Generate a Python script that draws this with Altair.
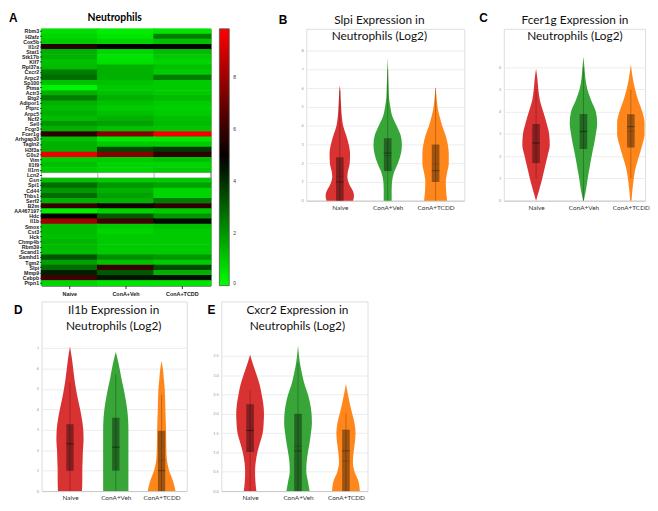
import altair as alt
import pandas as pd

conditions = ["Naive", "ConA+Veh", "ConA+TCDD"]
group_colors = ["#d62728", "#2ca02c", "#ff7f0e"]

# ---------------- Heatmap (panel A) ----------------
genes = ["Rbm3", "H2afz", "Cox5b", "Il1r2", "Stat1", "Stk17b", "Klf7", "Rpl37a", "Cxcr2", "Arpc2",
         "Sp100", "Ptma", "Actr3", "Btg2", "Adipor1", "Ptprc", "Arpc5", "Ncf2", "Sell", "Fcgr3",
         "Fcer1g", "Arhgap30", "Tagln2", "H3f3a", "G0s2", "Vim", "Il1f9", "Il1rn", "Lcn2", "Gsn",
         "Spi1", "Cd44", "Thbs1", "Serf2", "B2m", "AA467197", "Hdc", "Il1b", "Smox", "Cst3",
         "Hck", "Chmp4b", "Rbm39", "Scand1", "Samhd1", "Tgm2", "Slpi", "Mmp9", "Cebpb", "Ptpn1"]
heat_naive = [0.6, 0.8, 1.0, 5.6, 1.5, 1.5, 1.2, 1.3, 2.5, 2.8,
              1.2, 0.2, 1.5, 2.5, 1.5, 1.3, 1.5, 1.3, 2.0, 1.5,
              5.8, 1.2, 1.5, 1.5, 9.5, 1.0, 1.2, 1.0, None, 1.2,
              2.8, 2.0, 2.8, 1.5, 6.0, 0.3, 4.9, 8.0, 1.3, 1.3,
              1.2, 1.4, 1.3, 1.3, 3.3, 1.8, 2.8, 4.3, 6.2, 0.8]
heat_veh = [0.3, 0.5, 0.8, 4.9, 0.8, 0.5, 0.6, 1.5, 1.5, 1.5,
            1.2, 1.0, 1.2, 1.5, 1.2, 1.0, 1.2, 1.5, 1.8, 1.2,
            7.5, 0.4, 1.0, 3.5, 7.5, 1.0, 0.8, 0.8, None, 1.0,
            2.0, 1.5, 1.8, 1.5, 5.3, 0.8, 3.2, 6.2, 1.0, 0.8,
            1.0, 1.0, 1.0, 1.0, 2.2, 1.2, 6.0, 3.2, 4.5, 0.5]
heat_tcdd = [0.5, 2.5, 1.2, 4.8, 1.3, 1.0, 0.8, 1.2, 1.0, 2.5,
             1.0, 1.0, 1.0, 1.3, 1.0, 0.9, 1.0, 1.2, 1.3, 1.1,
             9.6, 0.4, 1.0, 3.8, 5.8, 1.2, 0.8, 1.0, None, 1.0,
             1.8, 0.8, 0.8, 2.5, 5.8, 1.0, 2.0, 4.7, 1.2, 1.0,
             1.0, 1.0, 1.0, 1.0, 2.0, 1.0, 3.5, 1.5, 4.6, 0.5]
colorbar_ticks = [0, 2, 4, 6, 8]

heat_rows = []
for i, g in enumerate(genes):
    for c, arr in zip(conditions, [heat_naive, heat_veh, heat_tcdd]):
        heat_rows.append({"gene": g, "cond": c, "val": arr[i]})
heat_df = pd.DataFrame(heat_rows)

HEAT_W, HEAT_H = 171, 260

hx = alt.X("cond:N", sort=conditions, title=None,
           axis=alt.Axis(labelAngle=0, labelFont="Liberation Sans", labelFontWeight="bold",
                         labelFontSize=5.5, labelColor="#222", tickSize=3, tickColor="#333",
                         domain=False, labelPadding=3))
hy = alt.Y("gene:N", sort=genes, title=None,
           axis=alt.Axis(labelFont="Liberation Sans", labelFontWeight="bold", labelFontSize=5.3,
                         labelColor="#222", tickSize=2, tickColor="#333", domain=False,
                         labelPadding=1))
heat_scale = alt.Scale(domain=[0, 4.9, 9.85], range=["#00ff00", "#000000", "#ff0000"],
                       interpolate="rgb")
hcolor = alt.Color("val:Q", scale=heat_scale,
                   legend=alt.Legend(title=None, type="gradient", orient="right",
                                     direction="vertical",
                                     gradientLength=HEAT_H, gradientThickness=10, offset=9,
                                     values=colorbar_ticks, labelFontSize=5,
                                     labelFont="Liberation Sans", labelColor="#333",
                                     gradientStrokeColor="#555", gradientStrokeWidth=0.8,
                                     labelOverlap=False, labelOffset=4))
heat_base = alt.Chart(heat_df)
heat_cells = heat_base.transform_filter("isValid(datum.val)").mark_rect(
    height={"band": 1.12}, width={"band": 1.03}).encode(x=hx, y=hy, color=hcolor)
heat_missing = heat_base.transform_filter("!isValid(datum.val)").mark_rect(
    color="white", stroke="#777", strokeWidth=0.4).encode(x=hx, y=hy)
heat_text = alt.Chart(pd.DataFrame({"t": ["A", "Neutrophils"],
                                    "kind": ["letter", "title"]}))
letter_a = heat_text.transform_filter("datum.kind == 'letter'").mark_text(
    font="Liberation Sans", fontWeight="bold", fontSize=12, align="left", baseline="middle",
    color="black").encode(text="t:N", x=alt.value(-33), y=alt.value(-11))
title_a = heat_text.transform_filter("datum.kind == 'title'").mark_text(
    font="Lato", fontWeight="bold", fontSize=10.5, align="center", baseline="middle",
    color="black").encode(text="t:N", x=alt.value(74), y=alt.value(-11))
panel_a = alt.layer(heat_cells, heat_missing, letter_a, title_a).properties(
    width=HEAT_W, height=HEAT_H,
    view=alt.ViewBackground(stroke="#444", strokeWidth=1))

# ---------------- Violin panels ----------------
# Slpi (B)
slpi_naive_y = [0, 0.25, 0.5, 0.75, 1.0, 1.25, 1.5, 2.0, 2.5, 3.0, 3.5, 4.0, 4.5, 5.0, 5.5, 6.0, 6.13]
slpi_naive_w = [40, 43, 40, 32, 26, 23, 24, 30, 31, 27, 19, 10, 6, 4, 2.5, 1, 0]
slpi_veh_y = [0, 0.5, 1.0, 1.5, 2.0, 2.5, 3.0, 3.5, 4.0, 4.5, 5.0, 5.5, 6.0, 6.5, 7.0, 7.6]
slpi_veh_w = [12, 12, 13, 19, 31, 40, 43, 39, 27, 14, 8, 4, 3, 2, 1.2, 0]
slpi_tcdd_y = [0, 0.5, 1.0, 1.5, 2.0, 2.5, 3.0, 3.5, 4.0, 4.5, 5.0, 5.5, 6.08]
slpi_tcdd_w = [35, 32, 31, 35, 40, 40, 37, 30, 20, 12, 6, 3, 0]
slpi_q1 = [0, 1.58, 1.0]
slpi_med = [1.0, 2.54, 1.6]
slpi_q3 = [2.31, 3.33, 3.0]
slpi_mean = [1.3, 2.4, 1.96]
slpi_lo = [0, 0, 0]
slpi_hi = [5.9, 7.0, 6.0]

# Fcer1g (C)
fcer_naive_y = [0, 0.5, 1.0, 1.5, 2.0, 2.5, 3.0, 3.5, 4.0, 4.5, 5.0, 5.5, 5.94]
fcer_naive_w = [0, 10, 19, 27, 35, 42, 40, 32, 22, 12, 7, 4, 0]
fcer_veh_y = [0, 0.5, 1.0, 1.5, 2.0, 2.5, 3.0, 3.5, 4.0, 4.5, 5.0, 5.5, 6.0, 6.48]
fcer_veh_w = [1, 8, 13, 19, 25, 32, 38, 42, 38, 24, 12, 6, 3, 0]
fcer_tcdd_y = [0, 0.5, 1.0, 1.5, 2.0, 2.5, 3.0, 3.5, 4.0, 4.5, 5.0, 5.5, 6.14]
fcer_tcdd_w = [2, 5, 9, 15, 25, 35, 42, 42, 35, 23, 13, 6, 0]
fcer_q1 = [1.69, 2.33, 2.39]
fcer_med = [2.6, 3.12, 3.33]
fcer_q3 = [3.45, 3.9, 3.89]
fcer_mean = [2.6, 3.1, 3.12]
fcer_lo = [0.98, 0, 1.0]
fcer_hi = [5.0, 6.0, 5.0]

# Il1b (D)
il1b_naive_y = [0, 0.5, 1.0, 1.5, 2.0, 2.5, 3.0, 3.5, 4.0, 4.5, 5.0, 5.5, 6.0, 6.5, 7.08]
il1b_naive_w = [38, 39, 39, 40, 41, 43, 42, 38, 32, 25, 19, 14, 10, 6, 0]
il1b_veh_y = [0, 0.5, 1.0, 1.5, 2.0, 2.5, 3.0, 3.5, 4.0, 4.5, 5.0, 5.5, 6.0, 6.5, 6.8]
il1b_veh_w = [40, 40, 40, 40, 40, 40, 40, 39, 36, 31, 25, 18, 12, 5, 0]
il1b_tcdd_y = [0, 0.5, 1.0, 1.5, 2.0, 3.0, 4.0, 5.0, 5.5, 6.0, 6.36]
il1b_tcdd_w = [44, 36, 24, 17, 15, 14, 12, 10, 7, 4, 0]
il1b_q1 = [1.0, 1.0, 0]
il1b_med = [2.31, 2.15, 1.0]
il1b_q3 = [3.27, 3.59, 2.95]
il1b_mean = [2.31, 2.15, 1.52]
il1b_lo = [0, 0, 0]
il1b_hi = [5.3, 5.7, 4.7]

# Cxcr2 (E)
cxcr2_naive_y = [0, 0.25, 0.5, 0.75, 1.0, 1.25, 1.5, 1.75, 2.0, 2.25, 2.5, 2.75, 3.0, 3.25, 3.53]
cxcr2_naive_w = [19, 16, 15, 17, 22, 30, 38, 41, 42, 40, 35, 29, 20, 10, 0]
cxcr2_veh_y = [0, 0.25, 0.5, 0.75, 1.0, 1.25, 1.5, 1.75, 2.0, 2.25, 2.5, 2.75, 3.0, 3.25, 3.5, 3.76]
cxcr2_veh_w = [35, 30, 25, 26, 30, 35, 39, 42, 41, 37, 30, 20, 13, 7, 3, 0]
cxcr2_tcdd_y = [0, 0.25, 0.5, 0.75, 1.0, 1.25, 1.5, 1.75, 2.0, 2.25, 2.5, 2.78]
cxcr2_tcdd_w = [42, 38, 26, 21, 23, 27, 29, 26, 19, 12, 6, 0]
cxcr2_q1 = [1.01, 0, 0]
cxcr2_med = [1.57, 1.04, 1.04]
cxcr2_q3 = [2.25, 2.0, 1.59]
cxcr2_mean = [1.57, 1.16, 0.78]
cxcr2_lo = [0, 0, 0]
cxcr2_hi = [2.6, 3.3, 2.0]

WIDTH_SCALE = 145.0   # violin width units per category spacing (style constant)
BOX_HALF = 0.08


def violin_panel(letter, title, profiles, q1, med, q3, mean, lo, hi,
                 xdom, ydom, yticks, width, height, letter_xy, title_xy):
    vrows = []
    for gi, (ys, ws) in enumerate(profiles):
        for k, (yv, wv) in enumerate(zip(ys, ws)):
            vrows.append({"grp": conditions[gi], "pos": gi, "v": yv, "w": wv, "k": k})
    vdf = pd.DataFrame(vrows)
    sdf = pd.DataFrame({"grp": conditions, "pos": [0, 1, 2], "q1": q1, "med": med, "q3": q3,
                        "mean": mean, "lo": lo, "hi": hi})
    xscale = alt.Scale(domain=xdom, nice=False, zero=False)
    yscale = alt.Scale(domain=ydom, nice=False, zero=False)
    xaxis = alt.Axis(values=[0, 1, 2], labelExpr="['Naive','ConA+Veh','ConA+TCDD'][datum.value]",
                     grid=False, ticks=False, domain=True, domainColor="#c8c8c8",
                     labelFont="Lato", labelFontSize=6.5, labelColor="#333", labelPadding=4)
    yaxis = alt.Axis(values=yticks, grid=True, gridColor="#ececec", ticks=False, domain=False,
                     labelFont="Lato", labelFontSize=4, labelColor="#999", labelPadding=3)

    layers = []
    for gi, (ys, ws) in enumerate(profiles):
        gdf = vdf[vdf["grp"] == conditions[gi]]
        layers.append(
            alt.Chart(gdf).transform_calculate(
                lo_x=f"datum.pos - datum.w / {WIDTH_SCALE}",
                hi_x=f"datum.pos + datum.w / {WIDTH_SCALE}"
            ).mark_area(orient="horizontal", opacity=0.95, color=group_colors[gi],
                        interpolate="monotone").encode(
                y=alt.Y("v:Q", scale=yscale, axis=yaxis, title=None),
                x=alt.X("lo_x:Q", scale=xscale, axis=xaxis, title=None, stack=None),
                x2="hi_x:Q",
            )
        )
    sbase = alt.Chart(sdf).transform_calculate(
        bl=f"datum.pos - {BOX_HALF}", br=f"datum.pos + {BOX_HALF}")
    whisker = sbase.mark_rule(color="#000", opacity=0.35, strokeWidth=0.7).encode(
        x=alt.X("pos:Q", scale=xscale, axis=xaxis, title=None),
        y=alt.Y("lo:Q", scale=yscale, axis=yaxis, title=None), y2="hi:Q")
    box = sbase.mark_rect(color="#000", opacity=0.38).encode(
        x=alt.X("bl:Q", scale=xscale, axis=xaxis, title=None), x2="br:Q",
        y=alt.Y("q1:Q", scale=yscale, axis=yaxis, title=None), y2="q3:Q")
    median = sbase.mark_rule(color="#000", opacity=0.45, strokeWidth=0.8).encode(
        x=alt.X("bl:Q", scale=xscale, axis=xaxis, title=None), x2="br:Q",
        y=alt.Y("med:Q", scale=yscale, axis=yaxis, title=None))
    meanline = sbase.mark_rule(color="#000", opacity=0.25, strokeWidth=0.6).encode(
        x=alt.X("bl:Q", scale=xscale, axis=xaxis, title=None), x2="br:Q",
        y=alt.Y("mean:Q", scale=yscale, axis=yaxis, title=None))
    tdf = pd.DataFrame({"t": [letter, title[0] + "|" + title[1]], "kind": ["letter", "title"]})
    ltr = alt.Chart(tdf).transform_filter("datum.kind == 'letter'").mark_text(
        font="Liberation Sans", fontWeight="bold", fontSize=12, align="left", baseline="middle",
        color="black").encode(text="t:N", x=alt.value(letter_xy[0]), y=alt.value(letter_xy[1]))
    ttl = alt.Chart(tdf).transform_filter("datum.kind == 'title'").mark_text(
        font="Lato", fontSize=12, align="center", baseline="top", lineBreak="|", lineHeight=16,
        color="#111").encode(text="t:N", x=alt.value(title_xy[0]), y=alt.value(title_xy[1]))
    return alt.layer(*layers, whisker, box, median, meanline, ltr, ttl).properties(
        width=width, height=height)


panel_b = violin_panel("B", ["Slpi Expression in", "Neutrophils (Log2)"],
                       [(slpi_naive_y, slpi_naive_w), (slpi_veh_y, slpi_veh_w), (slpi_tcdd_y, slpi_tcdd_w)],
                       slpi_q1, slpi_med, slpi_q3, slpi_mean, slpi_lo, slpi_hi,
                       [-0.7, 2.6], [0, 9.16], [0, 1, 2, 3, 4, 5, 6, 7, 8], 160, 174,
                       (-28, -9), (74, -14))
panel_c = violin_panel("C", ["Fcer1g Expression in", "Neutrophils (Log2)"],
                       [(fcer_naive_y, fcer_naive_w), (fcer_veh_y, fcer_veh_w), (fcer_tcdd_y, fcer_tcdd_w)],
                       fcer_q1, fcer_med, fcer_q3, fcer_mean, fcer_lo, fcer_hi,
                       [-0.68, 2.3], [0, 7.73], [0, 1, 2, 3, 4, 5, 6], 143, 174,
                       (-25, -11), (72, -14))
panel_d = violin_panel("D", ["Il1b Expression in", "Neutrophils (Log2)"],
                       [(il1b_naive_y, il1b_naive_w), (il1b_veh_y, il1b_veh_w), (il1b_tcdd_y, il1b_tcdd_w)],
                       il1b_q1, il1b_med, il1b_q3, il1b_mean, il1b_lo, il1b_hi,
                       [-0.62, 2.55], [0, 9.28], [0, 1, 2, 3, 4, 5, 6, 7], 147, 192,
                       (-28, 9), (73, 4))
panel_e = violin_panel("E", ["Cxcr2 Expression in", "Neutrophils (Log2)"],
                       [(cxcr2_naive_y, cxcr2_naive_w), (cxcr2_veh_y, cxcr2_veh_w), (cxcr2_tcdd_y, cxcr2_tcdd_w)],
                       cxcr2_q1, cxcr2_med, cxcr2_q3, cxcr2_mean, cxcr2_lo, cxcr2_hi,
                       [-0.6, 2.45], [0, 4.91], [0, 0.5, 1, 1.5, 2, 2.5, 3, 3.5], 148, 192,
                       (-14, 9), (77, 4))

top = alt.hconcat(panel_a, alt.hconcat(panel_b, panel_c, spacing=13), spacing=41
                  ).resolve_scale(color="independent").resolve_legend(color="independent")
bottom = alt.hconcat(panel_d, panel_e, spacing=19)
chart = alt.vconcat(top, bottom, spacing=3).resolve_scale(color="independent").resolve_legend(
    color="independent").properties(
    padding={"left": 0, "top": 0, "right": 0, "bottom": 0}
).configure_view(stroke=None).configure(background="white")

chart.save("out.html", embed_options={"renderer": "svg", "actions": False})
